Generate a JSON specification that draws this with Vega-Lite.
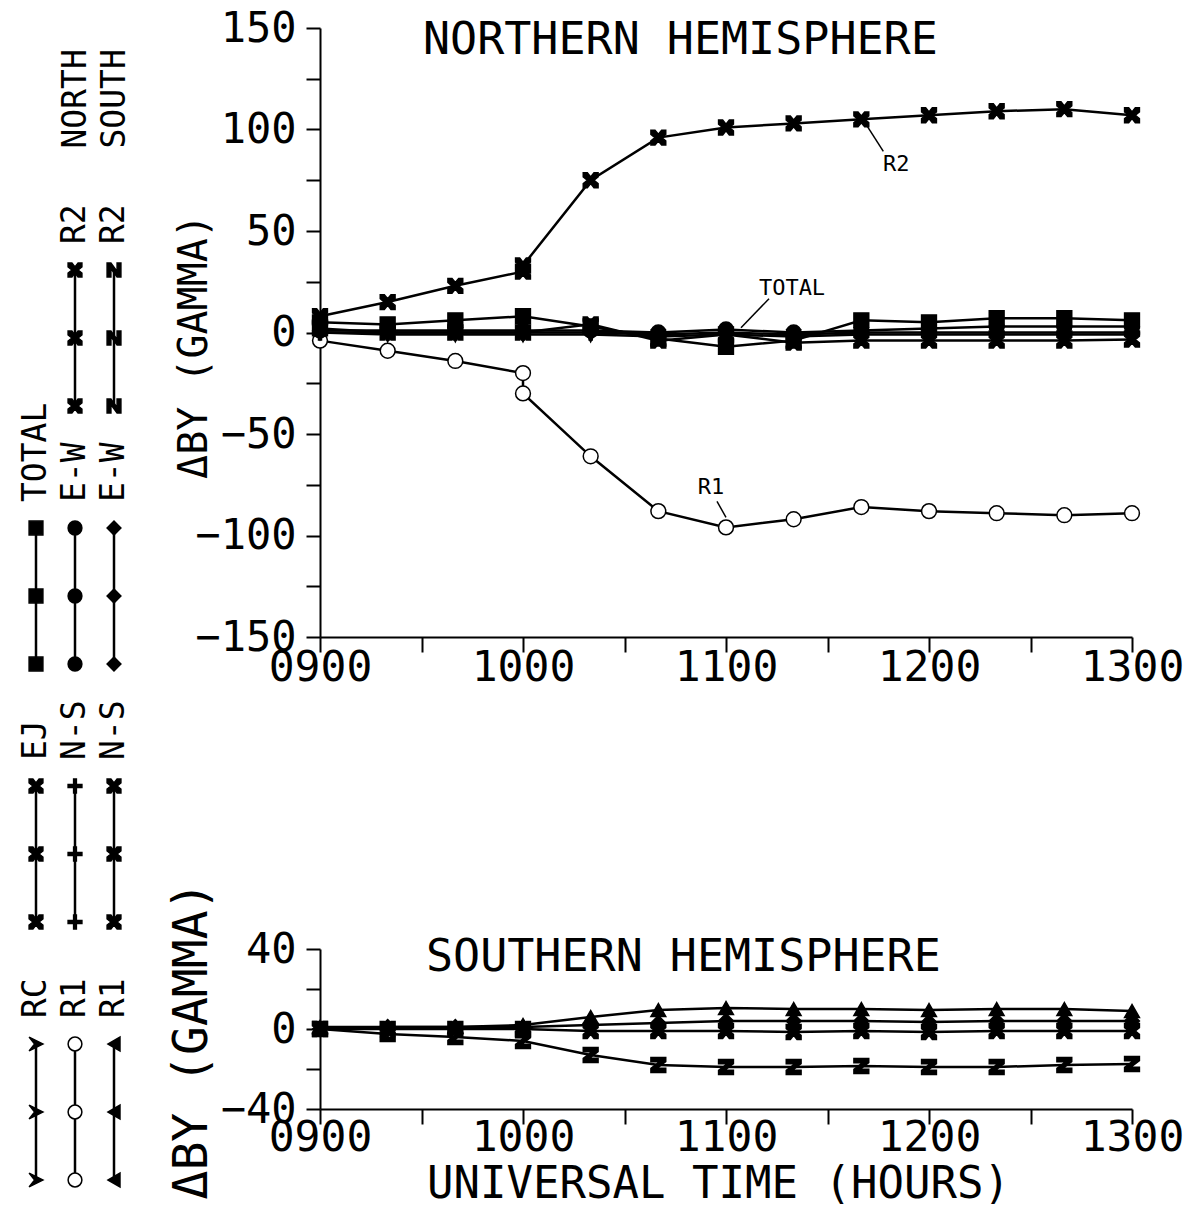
{
  "$schema": "https://vega.github.io/schema/vega-lite/v6.json",
  "background": "white",
  "padding": {"left": 20, "top": 7, "right": 0, "bottom": 0},
  "bounds": "flush",
  "spacing": 206,
  "config": {
    "font": "DejaVu Sans Mono",
    "view": {"stroke": null},
    "axis": {
      "grid": false,
      "domainColor": "black",
      "domainWidth": 2,
      "tickColor": "black",
      "tickWidth": 2,
      "labelColor": "black",
      "titleColor": "black",
      "labelFont": "DejaVu Sans Mono",
      "titleFont": "DejaVu Sans Mono",
      "labelFontSize": 42,
      "titleFontSize": 42,
      "titleFontWeight": "normal",
      "labelOverlap": false,
      "labelFlush": false
    },
    "title": {"font": "DejaVu Sans Mono", "fontSize": 45, "fontWeight": "normal", "color": "black"}
  },
  "datasets": {
    "series": [
      {"hemisphere": "North", "curve": "R2 north", "ut": 540, "dby": 8},
      {"hemisphere": "North", "curve": "R2 north", "ut": 560, "dby": 15},
      {"hemisphere": "North", "curve": "R2 north", "ut": 580, "dby": 23},
      {"hemisphere": "North", "curve": "R2 north", "ut": 600, "dby": 30},
      {"hemisphere": "North", "curve": "R2 north", "ut": 600, "dby": 33},
      {"hemisphere": "North", "curve": "R2 north", "ut": 620, "dby": 75},
      {"hemisphere": "North", "curve": "R2 north", "ut": 640, "dby": 96},
      {"hemisphere": "North", "curve": "R2 north", "ut": 660, "dby": 101},
      {"hemisphere": "North", "curve": "R2 north", "ut": 680, "dby": 103},
      {"hemisphere": "North", "curve": "R2 north", "ut": 700, "dby": 105},
      {"hemisphere": "North", "curve": "R2 north", "ut": 720, "dby": 107},
      {"hemisphere": "North", "curve": "R2 north", "ut": 740, "dby": 109},
      {"hemisphere": "North", "curve": "R2 north", "ut": 760, "dby": 110},
      {"hemisphere": "North", "curve": "R2 north", "ut": 780, "dby": 107},

      {"hemisphere": "North", "curve": "R1 north", "ut": 540, "dby": -4},
      {"hemisphere": "North", "curve": "R1 north", "ut": 560, "dby": -9},
      {"hemisphere": "North", "curve": "R1 north", "ut": 580, "dby": -14},
      {"hemisphere": "North", "curve": "R1 north", "ut": 600, "dby": -20},
      {"hemisphere": "North", "curve": "R1 north", "ut": 600, "dby": -30},
      {"hemisphere": "North", "curve": "R1 north", "ut": 620, "dby": -61},
      {"hemisphere": "North", "curve": "R1 north", "ut": 640, "dby": -88},
      {"hemisphere": "North", "curve": "R1 north", "ut": 660, "dby": -96},
      {"hemisphere": "North", "curve": "R1 north", "ut": 680, "dby": -92},
      {"hemisphere": "North", "curve": "R1 north", "ut": 700, "dby": -86},
      {"hemisphere": "North", "curve": "R1 north", "ut": 720, "dby": -88},
      {"hemisphere": "North", "curve": "R1 north", "ut": 740, "dby": -89},
      {"hemisphere": "North", "curve": "R1 north", "ut": 760, "dby": -90},
      {"hemisphere": "North", "curve": "R1 north", "ut": 780, "dby": -89},

      {"hemisphere": "North", "curve": "TOTAL north", "ut": 540, "dby": 5},
      {"hemisphere": "North", "curve": "TOTAL north", "ut": 560, "dby": 4},
      {"hemisphere": "North", "curve": "TOTAL north", "ut": 580, "dby": 6},
      {"hemisphere": "North", "curve": "TOTAL north", "ut": 600, "dby": 8},
      {"hemisphere": "North", "curve": "TOTAL north", "ut": 620, "dby": 3},
      {"hemisphere": "North", "curve": "TOTAL north", "ut": 640, "dby": -3},
      {"hemisphere": "North", "curve": "TOTAL north", "ut": 660, "dby": -7},
      {"hemisphere": "North", "curve": "TOTAL north", "ut": 680, "dby": -4},
      {"hemisphere": "North", "curve": "TOTAL north", "ut": 700, "dby": 6},
      {"hemisphere": "North", "curve": "TOTAL north", "ut": 720, "dby": 5},
      {"hemisphere": "North", "curve": "TOTAL north", "ut": 740, "dby": 7},
      {"hemisphere": "North", "curve": "TOTAL north", "ut": 760, "dby": 7},
      {"hemisphere": "North", "curve": "TOTAL north", "ut": 780, "dby": 6},

      {"hemisphere": "North", "curve": "E-W north", "ut": 540, "dby": 1},
      {"hemisphere": "North", "curve": "E-W north", "ut": 560, "dby": 1},
      {"hemisphere": "North", "curve": "E-W north", "ut": 580, "dby": 1},
      {"hemisphere": "North", "curve": "E-W north", "ut": 600, "dby": 1},
      {"hemisphere": "North", "curve": "E-W north", "ut": 620, "dby": 1},
      {"hemisphere": "North", "curve": "E-W north", "ut": 640, "dby": 0},
      {"hemisphere": "North", "curve": "E-W north", "ut": 660, "dby": 1.5},
      {"hemisphere": "North", "curve": "E-W north", "ut": 680, "dby": 0},
      {"hemisphere": "North", "curve": "E-W north", "ut": 700, "dby": 1},
      {"hemisphere": "North", "curve": "E-W north", "ut": 720, "dby": 2},
      {"hemisphere": "North", "curve": "E-W north", "ut": 740, "dby": 3},
      {"hemisphere": "North", "curve": "E-W north", "ut": 760, "dby": 3},
      {"hemisphere": "North", "curve": "E-W north", "ut": 780, "dby": 3},

      {"hemisphere": "North", "curve": "EJ north", "ut": 540, "dby": 2},
      {"hemisphere": "North", "curve": "EJ north", "ut": 560, "dby": 0},
      {"hemisphere": "North", "curve": "EJ north", "ut": 580, "dby": 0},
      {"hemisphere": "North", "curve": "EJ north", "ut": 600, "dby": 0},
      {"hemisphere": "North", "curve": "EJ north", "ut": 620, "dby": 4},
      {"hemisphere": "North", "curve": "EJ north", "ut": 640, "dby": -4},
      {"hemisphere": "North", "curve": "EJ north", "ut": 660, "dby": -1},
      {"hemisphere": "North", "curve": "EJ north", "ut": 680, "dby": -5},
      {"hemisphere": "North", "curve": "EJ north", "ut": 700, "dby": -4},
      {"hemisphere": "North", "curve": "EJ north", "ut": 720, "dby": -4},
      {"hemisphere": "North", "curve": "EJ north", "ut": 740, "dby": -4},
      {"hemisphere": "North", "curve": "EJ north", "ut": 760, "dby": -4},
      {"hemisphere": "North", "curve": "EJ north", "ut": 780, "dby": -3.5},

      {"hemisphere": "North", "curve": "N-S north", "ut": 540, "dby": 0},
      {"hemisphere": "North", "curve": "N-S north", "ut": 560, "dby": 0},
      {"hemisphere": "North", "curve": "N-S north", "ut": 580, "dby": 0},
      {"hemisphere": "North", "curve": "N-S north", "ut": 600, "dby": 0},
      {"hemisphere": "North", "curve": "N-S north", "ut": 620, "dby": 0},
      {"hemisphere": "North", "curve": "N-S north", "ut": 640, "dby": -1},
      {"hemisphere": "North", "curve": "N-S north", "ut": 660, "dby": 0},
      {"hemisphere": "North", "curve": "N-S north", "ut": 680, "dby": -1},
      {"hemisphere": "North", "curve": "N-S north", "ut": 700, "dby": 0},
      {"hemisphere": "North", "curve": "N-S north", "ut": 720, "dby": 0},
      {"hemisphere": "North", "curve": "N-S north", "ut": 740, "dby": 0},
      {"hemisphere": "North", "curve": "N-S north", "ut": 760, "dby": 0},
      {"hemisphere": "North", "curve": "N-S north", "ut": 780, "dby": 0},

      {"hemisphere": "North", "curve": "RC north", "ut": 540, "dby": 0},
      {"hemisphere": "North", "curve": "RC north", "ut": 560, "dby": -1},
      {"hemisphere": "North", "curve": "RC north", "ut": 580, "dby": -1},
      {"hemisphere": "North", "curve": "RC north", "ut": 600, "dby": -1},
      {"hemisphere": "North", "curve": "RC north", "ut": 620, "dby": -1},
      {"hemisphere": "North", "curve": "RC north", "ut": 640, "dby": -2},
      {"hemisphere": "North", "curve": "RC north", "ut": 660, "dby": -1},
      {"hemisphere": "North", "curve": "RC north", "ut": 680, "dby": -2},
      {"hemisphere": "North", "curve": "RC north", "ut": 700, "dby": -1},
      {"hemisphere": "North", "curve": "RC north", "ut": 720, "dby": -1},
      {"hemisphere": "North", "curve": "RC north", "ut": 740, "dby": -1},
      {"hemisphere": "North", "curve": "RC north", "ut": 760, "dby": -1},
      {"hemisphere": "North", "curve": "RC north", "ut": 780, "dby": -1},

      {"hemisphere": "South", "curve": "R1 south", "ut": 540, "dby": 1},
      {"hemisphere": "South", "curve": "R1 south", "ut": 560, "dby": 1},
      {"hemisphere": "South", "curve": "R1 south", "ut": 580, "dby": 1},
      {"hemisphere": "South", "curve": "R1 south", "ut": 600, "dby": 2},
      {"hemisphere": "South", "curve": "R1 south", "ut": 620, "dby": 6},
      {"hemisphere": "South", "curve": "R1 south", "ut": 640, "dby": 9.5},
      {"hemisphere": "South", "curve": "R1 south", "ut": 660, "dby": 10.5},
      {"hemisphere": "South", "curve": "R1 south", "ut": 680, "dby": 10},
      {"hemisphere": "South", "curve": "R1 south", "ut": 700, "dby": 10},
      {"hemisphere": "South", "curve": "R1 south", "ut": 720, "dby": 9.5},
      {"hemisphere": "South", "curve": "R1 south", "ut": 740, "dby": 10},
      {"hemisphere": "South", "curve": "R1 south", "ut": 760, "dby": 10},
      {"hemisphere": "South", "curve": "R1 south", "ut": 780, "dby": 9},

      {"hemisphere": "South", "curve": "E-W south", "ut": 540, "dby": 0},
      {"hemisphere": "South", "curve": "E-W south", "ut": 560, "dby": 1},
      {"hemisphere": "South", "curve": "E-W south", "ut": 580, "dby": 1},
      {"hemisphere": "South", "curve": "E-W south", "ut": 600, "dby": 1},
      {"hemisphere": "South", "curve": "E-W south", "ut": 620, "dby": 2},
      {"hemisphere": "South", "curve": "E-W south", "ut": 640, "dby": 3},
      {"hemisphere": "South", "curve": "E-W south", "ut": 660, "dby": 4},
      {"hemisphere": "South", "curve": "E-W south", "ut": 680, "dby": 4},
      {"hemisphere": "South", "curve": "E-W south", "ut": 700, "dby": 4},
      {"hemisphere": "South", "curve": "E-W south", "ut": 720, "dby": 3.5},
      {"hemisphere": "South", "curve": "E-W south", "ut": 740, "dby": 4},
      {"hemisphere": "South", "curve": "E-W south", "ut": 760, "dby": 4},
      {"hemisphere": "South", "curve": "E-W south", "ut": 780, "dby": 4},

      {"hemisphere": "South", "curve": "N-S south", "ut": 540, "dby": 0},
      {"hemisphere": "South", "curve": "N-S south", "ut": 560, "dby": 0},
      {"hemisphere": "South", "curve": "N-S south", "ut": 580, "dby": 0},
      {"hemisphere": "South", "curve": "N-S south", "ut": 600, "dby": 0},
      {"hemisphere": "South", "curve": "N-S south", "ut": 620, "dby": -1},
      {"hemisphere": "South", "curve": "N-S south", "ut": 640, "dby": -1},
      {"hemisphere": "South", "curve": "N-S south", "ut": 660, "dby": -1},
      {"hemisphere": "South", "curve": "N-S south", "ut": 680, "dby": -1.5},
      {"hemisphere": "South", "curve": "N-S south", "ut": 700, "dby": -1},
      {"hemisphere": "South", "curve": "N-S south", "ut": 720, "dby": -1.5},
      {"hemisphere": "South", "curve": "N-S south", "ut": 740, "dby": -1},
      {"hemisphere": "South", "curve": "N-S south", "ut": 760, "dby": -1},
      {"hemisphere": "South", "curve": "N-S south", "ut": 780, "dby": -1},

      {"hemisphere": "South", "curve": "R2 south", "ut": 540, "dby": 0},
      {"hemisphere": "South", "curve": "R2 south", "ut": 560, "dby": -2.5},
      {"hemisphere": "South", "curve": "R2 south", "ut": 580, "dby": -4},
      {"hemisphere": "South", "curve": "R2 south", "ut": 600, "dby": -6},
      {"hemisphere": "South", "curve": "R2 south", "ut": 620, "dby": -13},
      {"hemisphere": "South", "curve": "R2 south", "ut": 640, "dby": -18},
      {"hemisphere": "South", "curve": "R2 south", "ut": 660, "dby": -19},
      {"hemisphere": "South", "curve": "R2 south", "ut": 680, "dby": -19},
      {"hemisphere": "South", "curve": "R2 south", "ut": 700, "dby": -18.5},
      {"hemisphere": "South", "curve": "R2 south", "ut": 720, "dby": -19},
      {"hemisphere": "South", "curve": "R2 south", "ut": 740, "dby": -19},
      {"hemisphere": "South", "curve": "R2 south", "ut": 760, "dby": -18},
      {"hemisphere": "South", "curve": "R2 south", "ut": 780, "dby": -17.5}
    ],
    "key": [
      {"col": "NORTH", "row": 1, "curve": "R2 north", "label": "R2", "k": 1},
      {"col": "NORTH", "row": 1, "curve": "R2 north", "label": "R2", "k": 2},
      {"col": "NORTH", "row": 1, "curve": "R2 north", "label": "R2", "k": 3},
      {"col": "SOUTH", "row": 1, "curve": "R2 south", "label": "R2", "k": 1},
      {"col": "SOUTH", "row": 1, "curve": "R2 south", "label": "R2", "k": 2},
      {"col": "SOUTH", "row": 1, "curve": "R2 south", "label": "R2", "k": 3},
      {"col": "COMMON", "row": 2, "curve": "TOTAL north", "label": "TOTAL", "k": 1},
      {"col": "COMMON", "row": 2, "curve": "TOTAL north", "label": "TOTAL", "k": 2},
      {"col": "COMMON", "row": 2, "curve": "TOTAL north", "label": "TOTAL", "k": 3},
      {"col": "NORTH", "row": 2, "curve": "E-W north", "label": "E-W", "k": 1},
      {"col": "NORTH", "row": 2, "curve": "E-W north", "label": "E-W", "k": 2},
      {"col": "NORTH", "row": 2, "curve": "E-W north", "label": "E-W", "k": 3},
      {"col": "SOUTH", "row": 2, "curve": "E-W south", "label": "E-W", "k": 1},
      {"col": "SOUTH", "row": 2, "curve": "E-W south", "label": "E-W", "k": 2},
      {"col": "SOUTH", "row": 2, "curve": "E-W south", "label": "E-W", "k": 3},
      {"col": "COMMON", "row": 3, "curve": "EJ north", "label": "EJ", "k": 1},
      {"col": "COMMON", "row": 3, "curve": "EJ north", "label": "EJ", "k": 2},
      {"col": "COMMON", "row": 3, "curve": "EJ north", "label": "EJ", "k": 3},
      {"col": "NORTH", "row": 3, "curve": "N-S north", "label": "N-S", "k": 1},
      {"col": "NORTH", "row": 3, "curve": "N-S north", "label": "N-S", "k": 2},
      {"col": "NORTH", "row": 3, "curve": "N-S north", "label": "N-S", "k": 3},
      {"col": "SOUTH", "row": 3, "curve": "N-S south", "label": "N-S", "k": 1},
      {"col": "SOUTH", "row": 3, "curve": "N-S south", "label": "N-S", "k": 2},
      {"col": "SOUTH", "row": 3, "curve": "N-S south", "label": "N-S", "k": 3},
      {"col": "COMMON", "row": 4, "curve": "RC north", "label": "RC", "k": 1},
      {"col": "COMMON", "row": 4, "curve": "RC north", "label": "RC", "k": 2},
      {"col": "COMMON", "row": 4, "curve": "RC north", "label": "RC", "k": 3},
      {"col": "NORTH", "row": 4, "curve": "R1 north", "label": "R1", "k": 1},
      {"col": "NORTH", "row": 4, "curve": "R1 north", "label": "R1", "k": 2},
      {"col": "NORTH", "row": 4, "curve": "R1 north", "label": "R1", "k": 3},
      {"col": "SOUTH", "row": 4, "curve": "R1 south", "label": "R1", "k": 1},
      {"col": "SOUTH", "row": 4, "curve": "R1 south", "label": "R1", "k": 2},
      {"col": "SOUTH", "row": 4, "curve": "R1 south", "label": "R1", "k": 3}
    ]
  },
  "resolve": {"scale": {"x": "independent", "y": "independent", "shape": "independent", "fill": "independent"}},
  "hconcat": [
    {
      "width": 78,
      "height": 1170,
      "data": {"name": "key"},
      "encoding": {
        "x": {
          "field": "col",
          "type": "nominal",
          "scale": {"type": "point", "domain": ["COMMON", "NORTH", "SOUTH"], "padding": 0},
          "axis": {
            "orient": "top",
            "title": null,
            "domain": false,
            "ticks": false,
            "tickSize": 0,
            "offset": -120,
            "labelPadding": 0,
            "labelAngle": 270,
            "labelAlign": "left",
            "labelBaseline": "middle",
            "labelFontSize": 33,
            "labelExpr": "datum.value == 'COMMON' ? '' : datum.value"
          }
        },
        "y": {
          "field": "row",
          "type": "ordinal",
          "bandPosition": 0,
          "scale": {"type": "band", "domain": [1, 2, 3, 4], "range": [162, 1194], "paddingInner": 0, "paddingOuter": 0},
          "axis": null
        }
      },
      "layer": [
        {
          "mark": {"type": "line", "color": "black", "strokeWidth": 2.5},
          "encoding": {
            "yOffset": {"field": "k", "type": "quantitative", "scale": {"domain": [1, 3], "range": [80, 216]}},
            "detail": {"field": "curve"},
            "order": {"field": "k"}
          }
        },
        {
          "mark": {"type": "point", "filled": true, "size": 190, "angle": 270, "stroke": "black", "strokeWidth": 1.5, "opacity": 1},
          "encoding": {
            "yOffset": {"field": "k", "type": "quantitative", "scale": {"domain": [1, 3], "range": [80, 216]}},
            "shape": {
              "field": "curve",
              "type": "nominal",
              "legend": null,
              "scale": {
                "domain": ["R2 north", "R2 south", "TOTAL north", "E-W north", "E-W south", "EJ north", "N-S north", "N-S south", "RC north", "R1 north", "R1 south"],
                "range": [
                  "M-1,-1L-0.45,-1L0,-0.45L0.45,-1L1,-1L1,-0.45L0.45,0L1,0.45L1,1L0.45,1L0,0.45L-0.45,1L-1,1L-1,0.45L-0.45,0L-1,-0.45Z",
                  "M-1,-1L1,-1L1,-0.45L-0.2,0.45L1,0.45L1,1L-1,1L-1,0.45L0.2,-0.45L-1,-0.45Z",
                  "square",
                  "circle",
                  "diamond",
                  "M-1,-1L-0.45,-1L0,-0.45L0.45,-1L1,-1L1,-0.45L0.45,0L1,0.45L1,1L0.45,1L0,0.45L-0.45,1L-1,1L-1,0.45L-0.45,0L-1,-0.45Z",
                  "M-0.2,-1L0.2,-1L0.2,-0.2L1,-0.2L1,0.2L0.2,0.2L0.2,1L-0.2,1L-0.2,0.2L-1,0.2L-1,-0.2L-0.2,-0.2Z",
                  "M-1,-1L-0.45,-1L0,-0.45L0.45,-1L1,-1L1,-0.45L0.45,0L1,0.45L1,1L0.45,1L0,0.45L-0.45,1L-1,1L-1,0.45L-0.45,0L-1,-0.45Z",
                  "M-1,-1L0,-0.2L1,-1L0,1Z",
                  "circle",
                  "triangle-up"
                ]
              }
            },
            "fill": {"condition": {"test": "datum.curve === 'R1 north'", "value": "white"}, "value": "black"}
          }
        },
        {
          "transform": [{"filter": "datum.k == 1"}],
          "mark": {"type": "text", "angle": 270, "align": "left", "baseline": "middle", "dx": -54, "fontSize": 33, "color": "black", "font": "DejaVu Sans Mono"},
          "encoding": {"text": {"field": "label"}}
        }
      ]
    },
    {
      "bounds": "flush",
      "spacing": 312,
      "resolve": {"scale": {"x": "independent", "y": "independent", "shape": "independent", "fill": "independent"}},
      "vconcat": [
        {
          "width": 812,
          "height": 609,
          "title": {"text": "NORTHERN HEMISPHERE", "anchor": "start", "frame": "group", "offset": -27, "dx": 103, "dy": 65, "baseline": "alphabetic"},
          "data": {"name": "series"},
          "transform": [{"filter": "datum.hemisphere == 'North'"}],
          "encoding": {
            "x": {
              "field": "ut",
              "type": "quantitative",
              "scale": {"domain": [540, 780], "nice": false},
              "axis": {
                "title": null,
                "values": [540, 570, 600, 630, 660, 690, 720, 750, 780],
                "labelExpr": "datum.value % 60 ? '' : (datum.value < 600 ? '0' : '') + floor(datum.value / 60) + '00'",
                "labelFontSize": 43,
                "tickSize": 15,
                "labelPadding": -6,
                "labelBaseline": "top"
              }
            },
            "y": {
              "field": "dby",
              "type": "quantitative",
              "scale": {"domain": [-150, 150], "nice": false},
              "axis": {
                "title": "ΔBY (GAMMA)",
                "values": [-150, -125, -100, -75, -50, -25, 0, 25, 50, 75, 100, 125, 150],
                "labelExpr": "datum.value % 50 ? '' : datum.label",
                "tickSize": 14,
                "labelPadding": 10,
                "titleFontSize": 40,
                "titleAngle": 270,
                "titleX": -114,
                "titleY": 318,
                "titleAlign": "center",
                "titleBaseline": "alphabetic"
              }
            }
          },
          "layer": [
            {
              "mark": {"type": "line", "color": "black", "strokeWidth": 2.5},
              "encoding": {"detail": {"field": "curve"}, "order": {"value": null}}
            },
            {
              "mark": {"type": "point", "filled": true, "size": 220, "stroke": "black", "strokeWidth": 1.5, "opacity": 1},
              "encoding": {
                "shape": {
                  "field": "curve",
                  "type": "nominal",
                  "legend": null,
                  "scale": {
                    "domain": ["R2 north", "R2 south", "TOTAL north", "E-W north", "E-W south", "EJ north", "N-S north", "N-S south", "RC north", "R1 north", "R1 south"],
                    "range": [
                      "M-1,-1L-0.45,-1L0,-0.45L0.45,-1L1,-1L1,-0.45L0.45,0L1,0.45L1,1L0.45,1L0,0.45L-0.45,1L-1,1L-1,0.45L-0.45,0L-1,-0.45Z",
                      "M-1,-1L1,-1L1,-0.45L-0.2,0.45L1,0.45L1,1L-1,1L-1,0.45L0.2,-0.45L-1,-0.45Z",
                      "square",
                      "circle",
                      "diamond",
                      "M-1,-1L-0.45,-1L0,-0.45L0.45,-1L1,-1L1,-0.45L0.45,0L1,0.45L1,1L0.45,1L0,0.45L-0.45,1L-1,1L-1,0.45L-0.45,0L-1,-0.45Z",
                      "M-0.2,-1L0.2,-1L0.2,-0.2L1,-0.2L1,0.2L0.2,0.2L0.2,1L-0.2,1L-0.2,0.2L-1,0.2L-1,-0.2L-0.2,-0.2Z",
                      "M-1,-1L-0.45,-1L0,-0.45L0.45,-1L1,-1L1,-0.45L0.45,0L1,0.45L1,1L0.45,1L0,0.45L-0.45,1L-1,1L-1,0.45L-0.45,0L-1,-0.45Z",
                      "M-1,-1L0,-0.2L1,-1L0,1Z",
                      "circle",
                      "triangle-up"
                    ]
                  }
                },
                "fill": {"condition": {"test": "datum.curve === 'R1 north'", "value": "white"}, "value": "black"}
              }
            },
            {
              "transform": [{"filter": "datum.curve == 'R2 north' && datum.ut == 700"}],
              "mark": {"type": "rule", "color": "black", "strokeWidth": 1.5, "xOffset": 6, "yOffset": 7, "x2Offset": 22, "y2Offset": 32},
              "encoding": {"x2": {"field": "ut"}, "y2": {"field": "dby"}}
            },
            {
              "transform": [{"filter": "datum.curve == 'R2 north' && datum.ut == 700"}],
              "mark": {"type": "text", "fontSize": 22, "align": "center", "baseline": "middle", "dx": 35, "dy": 45, "color": "black", "font": "DejaVu Sans Mono"},
              "encoding": {"text": {"value": "R2"}}
            },
            {
              "transform": [{"filter": "datum.curve == 'R1 north' && datum.ut == 660"}],
              "mark": {"type": "rule", "color": "black", "strokeWidth": 1.5, "xOffset": 0, "yOffset": -10, "x2Offset": -9, "y2Offset": -26},
              "encoding": {"x2": {"field": "ut"}, "y2": {"field": "dby"}}
            },
            {
              "transform": [{"filter": "datum.curve == 'R1 north' && datum.ut == 660"}],
              "mark": {"type": "text", "fontSize": 22, "align": "center", "baseline": "middle", "dx": -15, "dy": -40, "color": "black", "font": "DejaVu Sans Mono"},
              "encoding": {"text": {"value": "R1"}}
            },
            {
              "transform": [{"filter": "datum.curve == 'TOTAL north' && datum.ut == 660"}],
              "mark": {"type": "rule", "color": "black", "strokeWidth": 1.5, "xOffset": 15, "yOffset": -19, "x2Offset": 43, "y2Offset": -48},
              "encoding": {"x2": {"field": "ut"}, "y2": {"field": "dby"}}
            },
            {
              "transform": [{"filter": "datum.curve == 'TOTAL north' && datum.ut == 660"}],
              "mark": {"type": "text", "fontSize": 22, "align": "center", "baseline": "middle", "dx": 66, "dy": -59, "color": "black", "font": "DejaVu Sans Mono"},
              "encoding": {"text": {"value": "TOTAL"}}
            }
          ]
        },
        {
          "width": 812,
          "height": 160,
          "title": {"text": "SOUTHERN HEMISPHERE", "anchor": "start", "frame": "group", "offset": -27, "dx": 106, "dy": 108, "baseline": "alphabetic"},
          "data": {"name": "series"},
          "transform": [{"filter": "datum.hemisphere == 'South'"}],
          "encoding": {
            "x": {
              "field": "ut",
              "type": "quantitative",
              "scale": {"domain": [540, 780], "nice": false},
              "axis": {
                "title": "UNIVERSAL TIME (HOURS)",
                "values": [540, 570, 600, 630, 660, 690, 720, 750, 780],
                "labelExpr": "datum.value % 60 ? '' : (datum.value < 600 ? '0' : '') + floor(datum.value / 60) + '00'",
                "labelFontSize": 43,
                "tickSize": 15,
                "labelPadding": -8,
                "labelBaseline": "top",
                "titleFontSize": 44,
                "titleX": 398,
                "titleY": 88,
                "titleAlign": "center",
                "titleBaseline": "alphabetic"
              }
            },
            "y": {
              "field": "dby",
              "type": "quantitative",
              "scale": {"domain": [-40, 40], "nice": false},
              "axis": {
                "title": "ΔBY (GAMMA)",
                "values": [-40, -20, 0, 20, 40],
                "labelExpr": "datum.value % 40 ? '' : datum.label",
                "tickSize": 14,
                "labelPadding": 10,
                "titleFontSize": 48,
                "titleAngle": 270,
                "titleX": -114,
                "titleY": 91,
                "titleAlign": "center",
                "titleBaseline": "alphabetic"
              }
            }
          },
          "layer": [
            {
              "mark": {"type": "line", "color": "black", "strokeWidth": 2.5},
              "encoding": {"detail": {"field": "curve"}, "order": {"value": null}}
            },
            {
              "mark": {"type": "point", "filled": true, "size": 220, "stroke": "black", "strokeWidth": 1.5, "opacity": 1},
              "encoding": {
                "shape": {
                  "field": "curve",
                  "type": "nominal",
                  "legend": null,
                  "scale": {
                    "domain": ["R2 north", "R2 south", "TOTAL north", "E-W north", "E-W south", "EJ north", "N-S north", "N-S south", "RC north", "R1 north", "R1 south"],
                    "range": [
                      "M-1,-1L-0.45,-1L0,-0.45L0.45,-1L1,-1L1,-0.45L0.45,0L1,0.45L1,1L0.45,1L0,0.45L-0.45,1L-1,1L-1,0.45L-0.45,0L-1,-0.45Z",
                      "M-1,-1L1,-1L1,-0.45L-0.2,0.45L1,0.45L1,1L-1,1L-1,0.45L0.2,-0.45L-1,-0.45Z",
                      "square",
                      "circle",
                      "diamond",
                      "M-1,-1L-0.45,-1L0,-0.45L0.45,-1L1,-1L1,-0.45L0.45,0L1,0.45L1,1L0.45,1L0,0.45L-0.45,1L-1,1L-1,0.45L-0.45,0L-1,-0.45Z",
                      "M-0.2,-1L0.2,-1L0.2,-0.2L1,-0.2L1,0.2L0.2,0.2L0.2,1L-0.2,1L-0.2,0.2L-1,0.2L-1,-0.2L-0.2,-0.2Z",
                      "M-1,-1L-0.45,-1L0,-0.45L0.45,-1L1,-1L1,-0.45L0.45,0L1,0.45L1,1L0.45,1L0,0.45L-0.45,1L-1,1L-1,0.45L-0.45,0L-1,-0.45Z",
                      "M-1,-1L0,-0.2L1,-1L0,1Z",
                      "circle",
                      "triangle-up"
                    ]
                  }
                },
                "fill": {"condition": {"test": "datum.curve === 'R1 north'", "value": "white"}, "value": "black"}
              }
            }
          ]
        }
      ]
    }
  ]
}
